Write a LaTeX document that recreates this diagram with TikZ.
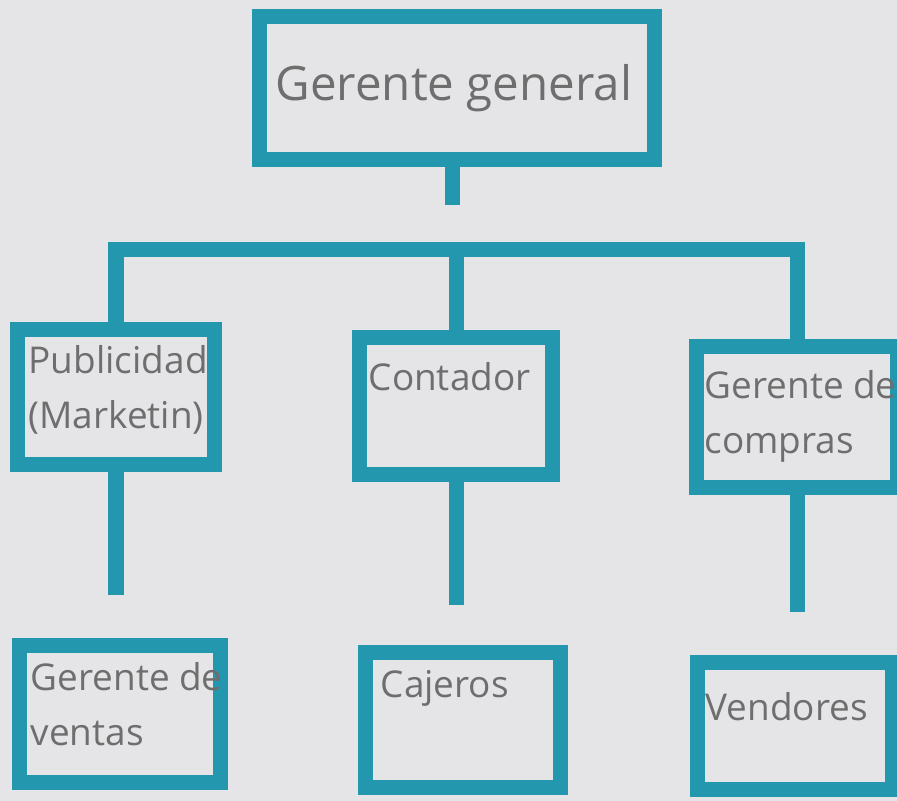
\documentclass[tikz,border=0pt]{standalone}
\usepackage{fontspec}
\setmainfont{Open Sans}
\usetikzlibrary{positioning,calc}

\definecolor{cinta}{HTML}{2297AE}
\definecolor{papel}{HTML}{E5E5E7}
\definecolor{lapiz}{HTML}{6E6E6E}

\tikzset{
  caja/.style={draw=cinta, line width=0.15cm, line join=miter, inner sep=0pt},
  linea/.style={draw=cinta, line width=0.15cm, line join=miter},
  texto/.style={lapiz, inner sep=0pt, anchor=north west, align=left,
    font=\fontsize{10.5}{15.6}\selectfont},
}

\begin{document}
\begin{tikzpicture}[x=0.01cm, y=-0.01cm]
\fill[papel] (0,0) rectangle (897,801);
\useasboundingbox (0,0) rectangle (897,801);

% cajas
\node[caja, minimum width=3.95cm, minimum height=1.42cm] (gg) at (457,88) {};
\node[caja, minimum width=1.97cm, minimum height=1.35cm] (pub) at (116,397) {};
\node[caja, minimum width=1.93cm, minimum height=1.37cm] (cont) at (456,406) {};
\node[caja, minimum width=2.00cm, minimum height=1.40cm] (gc) at (797,417) {};
\node[caja, minimum width=2.01cm, minimum height=1.37cm] (gv) at (120,714) {};
\node[caja, minimum width=1.95cm, minimum height=1.35cm] (caj) at (463,720) {};
\node[caja, minimum width=1.95cm, minimum height=1.27cm] (ven) at (795,726) {};

% textos
\node[texto, font=\fontsize{13.5}{16}\selectfont] (tgg) at (275,64) {Gerente general};
\node[texto] (tpub) at (28,345) {Publicidad\\(Marketin)};
\node[texto] (tcont) at (368,362) {Contador};
\node[texto] (tgc) at (704,370) {Gerente de\\compras};
\node[texto] (tgv) at (30,662) {Gerente de\\ventas};
\node[texto] (tcaj) at (380,670) {Cajeros};
\node[texto] (tven) at (705,692) {Vendores};

% lineas
\coordinate (cima) at (452,205);
\coordinate (barra) at (456,250);
\coordinate (fpub) at (118,595);
\coordinate (fcont) at (455,605);
\coordinate (fgc) at (795,612);

\draw[linea] (gg.south -| cima) -- (cima);
\draw[linea] (pub.north) |- (barra) -| (gc.north);
\draw[linea] (cont.north) -- (cont.north |- barra);

\draw[linea] (pub.south) -- (pub.south |- fpub);
\draw[linea] (cont.south) -- (cont.south |- fcont);
\draw[linea] (gc.south) -- (gc.south |- fgc);

\end{tikzpicture}
\end{document}
